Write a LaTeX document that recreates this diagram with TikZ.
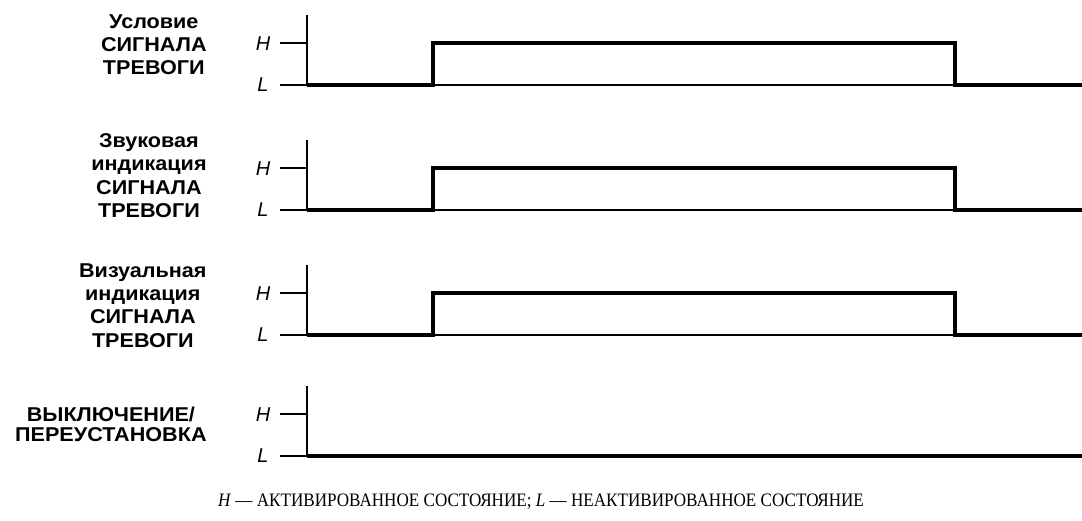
\documentclass[tikz,border=0pt]{standalone}
\usepackage{fontspec}
\setmainfont{Liberation Serif}
\setsansfont{Liberation Sans}
\newfontfamily\lblfont[FakeStretch=1.08]{Liberation Sans}
\newfontfamily\capfont[FakeStretch=0.9]{Liberation Serif}

\tikzset{
  thin line/.style={line width=0.75pt},
  signal/.style={line width=2pt},
  name label/.style={font=\lblfont\bfseries\fontsize{10}{11.7}\selectfont,
    align=center, anchor=north east, inner sep=0pt},
  level label/.style={font=\sffamily\itshape\fontsize{10}{11}\selectfont, inner sep=0pt}
}

\begin{document}
\begin{tikzpicture}[x=0.5pt,y=-0.5pt]
\useasboundingbox (0,0) rectangle (1082,520);
% axes, levels and ticks of the four traces
\foreach \i/\h in {1/43,2/168,3/293,4/414} {
  \pgfmathsetmacro{\l}{\h+42}
  \coordinate (top\i) at (307,\h-28);
  \coordinate (hi\i) at (307,\h);
  \coordinate (lo\i) at (307,\l);
  \coordinate (end\i) at (1082,\l);
  \draw[thin line] (top\i) -- (lo\i);
  \draw[thin line] (280,\h) -- (hi\i);
  \draw[thin line] (280,\l) -- (end\i);
  \node[level label] (H\i) at (263,\h+1) {H};
  \node[level label] (L\i) at (263,\l) {L};
}
% signal traces
\foreach \i in {1,2,3} {
  \draw[signal] (lo\i) -- (lo\i -| 433,0) -- (hi\i -| 433,0) -- (hi\i -| 955,0)
    -- (lo\i -| 955,0) -- (end\i);
}
\draw[signal] (lo4) -- (end4);
% names of the traces
\node[name label] (cond) at (207,14) {Условие\\СИГНАЛА\\ТРЕВОГИ};
\node[name label] (sound) at (207,133) {Звуковая\\индикация\\СИГНАЛА\\ТРЕВОГИ};
\node[name label] (visual) at (207,263) {Визуальная\\индикация\\СИГНАЛА\\ТРЕВОГИ};
\node[name label, font=\lblfont\bfseries\fontsize{10}{10}\selectfont] (reset) at (207,407) {ВЫКЛЮЧЕНИЕ/\\ПЕРЕУСТАНОВКА};
% legend
\node[font=\capfont\fontsize{9.5}{11}\selectfont, inner sep=0pt, anchor=base] (legend) at (541,506)
  {\textit{H} — АКТИВИРОВАННОЕ СОСТОЯНИЕ; \textit{L} — НЕАКТИВИРОВАННОЕ СОСТОЯНИЕ};
\end{tikzpicture}
\end{document}
